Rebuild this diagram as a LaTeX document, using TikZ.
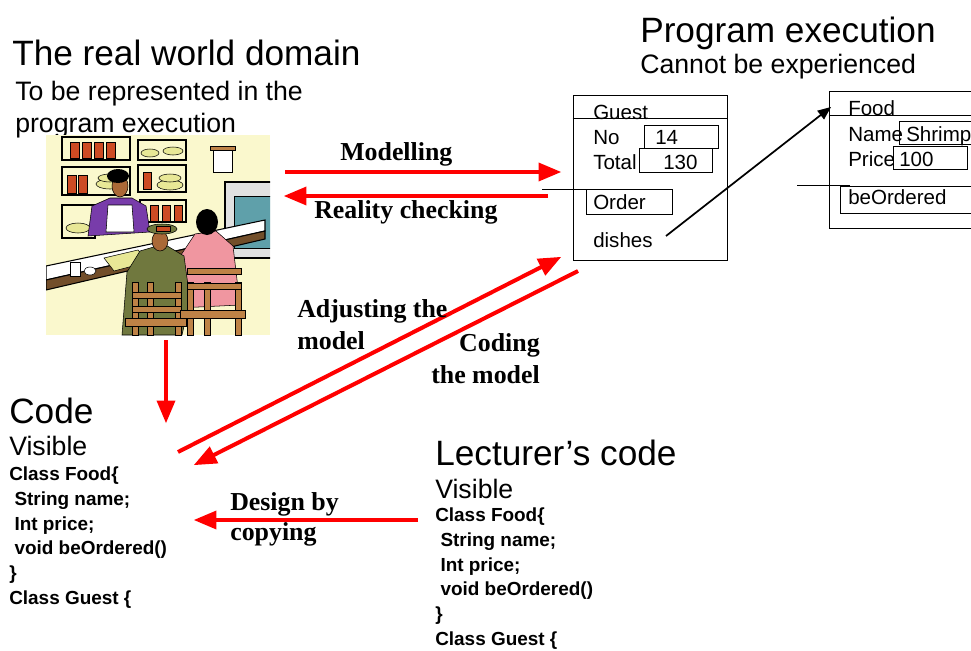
\documentclass[tikz,border=0pt]{standalone}
\usepackage{fontspec}
\setmainfont{Liberation Sans}
\newfontfamily\timesfont{Liberation Serif}
\usepackage{tikz}
\usetikzlibrary{arrows}
\definecolor{cream}{RGB}{250,248,205}
\definecolor{jar}{RGB}{205,75,35}
\definecolor{plate}{RGB}{232,232,150}
\definecolor{shirt}{RGB}{120,60,170}
\definecolor{coat}{RGB}{112,120,62}
\definecolor{dress}{RGB}{240,150,160}
\definecolor{chair}{RGB}{190,130,70}
\definecolor{skin}{RGB}{170,105,55}
\definecolor{oven}{RGB}{225,225,225}
\definecolor{screen}{RGB}{95,160,170}
\tikzstyle{heading} = [anchor=base west, inner sep=0, font=\fontsize{26.4}{30}\selectfont]
\tikzstyle{subheading} = [anchor=base west, inner sep=0, align=left, font=\fontsize{20}{24}\selectfont]
\tikzstyle{codetext} = [anchor=base west, inner sep=0, align=left, font=\fontsize{14.2}{18.5}\selectfont\bfseries]
\tikzstyle{arrowtext} = [inner sep=0, font=\fontsize{19.4}{24}\selectfont\timesfont\bfseries]
\tikzstyle{objtext} = [anchor=base west, inner sep=0, font=\fontsize{15.4}{18}\selectfont]
\tikzstyle{redarrow} = [line width=3pt, red, ->, >=triangle 45]
\tikzstyle{pointer} = [line width=1.3pt, ->, >=triangle 45]

\begin{document}
\begin{tikzpicture}[x=0.75pt, y=-0.75pt]
\useasboundingbox (0,0) rectangle (971,650);
\clip (0,0) rectangle (971,650);

% the real world
\node (realtitle) [heading] at (12,65) {The real world domain};
\node (realsub) [subheading] at (15,132) {To be represented in the\\program execution};

% restaurant scene
\node (scene) [inner sep=0, minimum width=168pt, minimum height=150pt] at (158,235) {};
\begin{scope}
\clip (46,135) rectangle (270,335);
\fill[cream] (46,135) rectangle (270,335);
\draw[thick] (62,137) rectangle (130,160);
\draw[thick] (62,167) rectangle (130,195);
\draw[thick] (62,205) rectangle (95,238);
\draw[thick] (138,140) rectangle (186,160);
\draw[thick] (138,165) rectangle (186,192);
\draw[thick] (140,200) rectangle (186,222);
\foreach \x in {70,82,94,106}
  \draw[fill=jar] (\x,142) rectangle (\x+9,158);
\foreach \x in {67,78}
  \draw[fill=jar] (\x,175) rectangle (\x+9,193);
\draw[fill=plate] (110,184) ellipse (14 and 5);
\draw[fill=plate] (110,178) ellipse (12 and 4);
\draw[fill=plate] (78,228) ellipse (12 and 5);
\draw[fill=plate] (150,153) ellipse (9 and 4);
\draw[fill=plate] (173,151) ellipse (10 and 4);
\draw[fill=jar] (143,172) rectangle (151,189);
\draw[fill=plate] (170,185) ellipse (13 and 5);
\draw[fill=plate] (170,178) ellipse (11 and 4);
\foreach \x in {150,162,174}
  \draw[fill=jar] (\x,205) rectangle (\x+8,221);
\draw[fill=chair] (210,146) rectangle (235,150);
\draw[fill=white] (213,150) rectangle (232,172);
\draw[thick, fill=oven] (225,182) rectangle (280,258);
\draw[fill=screen] (234,196) rectangle (280,248);
% waiter
\draw[fill=shirt] (88,236) -- (92,206) -- (110,198) -- (132,198) -- (146,206) -- (150,232) -- cycle;
\draw[fill=white] (108,205) -- (132,205) -- (134,232) -- (106,232) -- cycle;
\draw[fill=skin] (120,186) ellipse (8 and 11);
\fill (118,176) ellipse (11 and 7);
% counter
\draw[thick, fill=white] (46,266) -- (265,220) -- (265,231) -- (46,280) -- cycle;
\draw[thick, fill=chair!60!black] (46,280) -- (265,231) -- (265,239) -- (46,290) -- cycle;
\draw[fill=plate] (104,258) -- (138,250) -- (148,262) -- (114,271) -- cycle;
\draw[fill=white] (70,262) rectangle (80,276);
\draw[fill=white] (90,271) ellipse (6 and 4);
% guests
\draw[fill=dress] (178,308) -- (181,255) -- (195,234) -- (216,231) -- (233,246) -- (240,305) -- cycle;
\fill (207,222) ellipse (11 and 13);
\draw[fill=coat] (122,335) -- (127,272) -- (140,251) -- (164,244) -- (184,256) -- (190,300) -- (182,335) -- cycle;
\draw[fill=skin] (160,241) ellipse (8 and 10);
\draw[fill=coat] (162,229) ellipse (15 and 5);
\draw[fill=jar] (156,226) rectangle (170,231);
% chairs
\foreach \x in {135,150,178,190,207,238}
  \draw[fill=chair] (\x-3,282) rectangle (\x+3,335);
\draw[fill=chair] (132,292) rectangle (181,298);
\draw[fill=chair] (132,306) rectangle (181,312);
\draw[fill=chair] (187,268) rectangle (241,274);
\draw[fill=chair] (187,283) rectangle (241,289);
\draw[fill=chair] (125,318) rectangle (186,326);
\draw[fill=chair] (180,310) rectangle (245,318);
\end{scope}

% program execution
\node (progtitle) [heading] at (640,42) {Program execution};
\node (progsub) [subheading] at (640,73) {Cannot be experienced};

% the Guest object
\node (guest) [draw, inner sep=0, minimum width=115.5pt, minimum height=123.75pt] at (650,177.5) {};
\draw (guest.west |- 0,118) -- (guest.east |- 0,118);
\node (guestname) [objtext] at (593,119) {Guest};
\node (nolabel) [objtext] at (593,144) {No};
\draw (644,125) rectangle (718,148);
\node (noval) [objtext] at (655,144) {14};
\node (totallabel) [objtext] at (593,169) {Total};
\draw (639,148) rectangle (712,172);
\node (totalval) [objtext] at (663,169) {130};
\draw (542,189) -- (597,189);
\draw (586,189) rectangle (672,214);
\node (order) [objtext] at (593,209) {Order};
\node (dishes) [objtext] at (593,247) {dishes};

% the Food object
\node (food) [draw, inner sep=0, minimum width=120pt, minimum height=102.75pt] at (909,159.5) {};
\draw (food.west |- 0,115) -- (food.east |- 0,115);
\node (foodname) [objtext] at (848,115) {Food};
\node (namelabel) [objtext] at (848,141) {Name};
\draw (899,121) rectangle (1000,144);
\node (nameval) [objtext] at (906,141) {Shrimp};
\node (pricelabel) [objtext] at (848,166) {Price};
\draw (893,146) rectangle (967,169);
\node (priceval) [objtext] at (899,166) {100};
\draw (797,185) -- (850,185);
\draw (840,186) rectangle (1000,213);
\node (beordered) [objtext] at (848,204) {beOrdered};
\coordinate (dishptr) at (666,236);
\coordinate (foodptr) at (831,107);
\draw [pointer] (dishptr) -- (foodptr);

% code
\node (codetitle) [heading] at (9,423) {Code};
\node (codevis) [subheading] at (9,455) {Visible};
\node (code) [codetext] at (9,604) {Class Food\{\\\ String name;\\\ Int price;\\\ void beOrdered()\\\}\\Class Guest \{};
\node (lecttitle) [heading] at (435,465) {Lecturer’s code};
\node (lectvis) [subheading] at (435,498) {Visible};
\node (lectcode) [codetext] at (435,645) {Class Food\{\\\ String name;\\\ Int price;\\\ void beOrdered()\\\}\\Class Guest \{};

% red arrows
\coordinate (modstart) at (285,172);
\coordinate (modend) at (561,172);
\coordinate (realstart) at (548,196);
\coordinate (realend) at (284,196);
\coordinate (downstart) at (166,340);
\coordinate (downend) at (166,423);
\coordinate (adjstart) at (178,452);
\coordinate (adjend) at (561,257);
\coordinate (codstart) at (578,271);
\coordinate (codend) at (194,465);
\coordinate (copystart) at (418,520);
\coordinate (copyend) at (194,520);
\draw [redarrow] (modstart) -- (modend);
\draw [redarrow] (realstart) -- (realend);
\draw [redarrow] (downstart) -- (downend);
\draw [redarrow] (adjstart) -- (adjend);
\draw [redarrow] (codstart) -- (codend);
\draw [redarrow] (copystart) -- (copyend);
\node (modlabel) [arrowtext, anchor=base west] at (340,160) {Modelling};
\node (reallabel) [arrowtext, anchor=base west] at (314,218) {Reality checking};
\node (adjlabel) [arrowtext, anchor=base west, align=left] at (297,349) {Adjusting the\\model};
\node (codlabel) [arrowtext, anchor=base east, align=right] at (540,383) {Coding\\the model};
\node (copylabel) [arrowtext, anchor=base west, align=left, font=\fontsize{19.4}{22.5}\selectfont\timesfont\bfseries] at (230,540) {Design by\\copying};
\end{tikzpicture}
\end{document}
